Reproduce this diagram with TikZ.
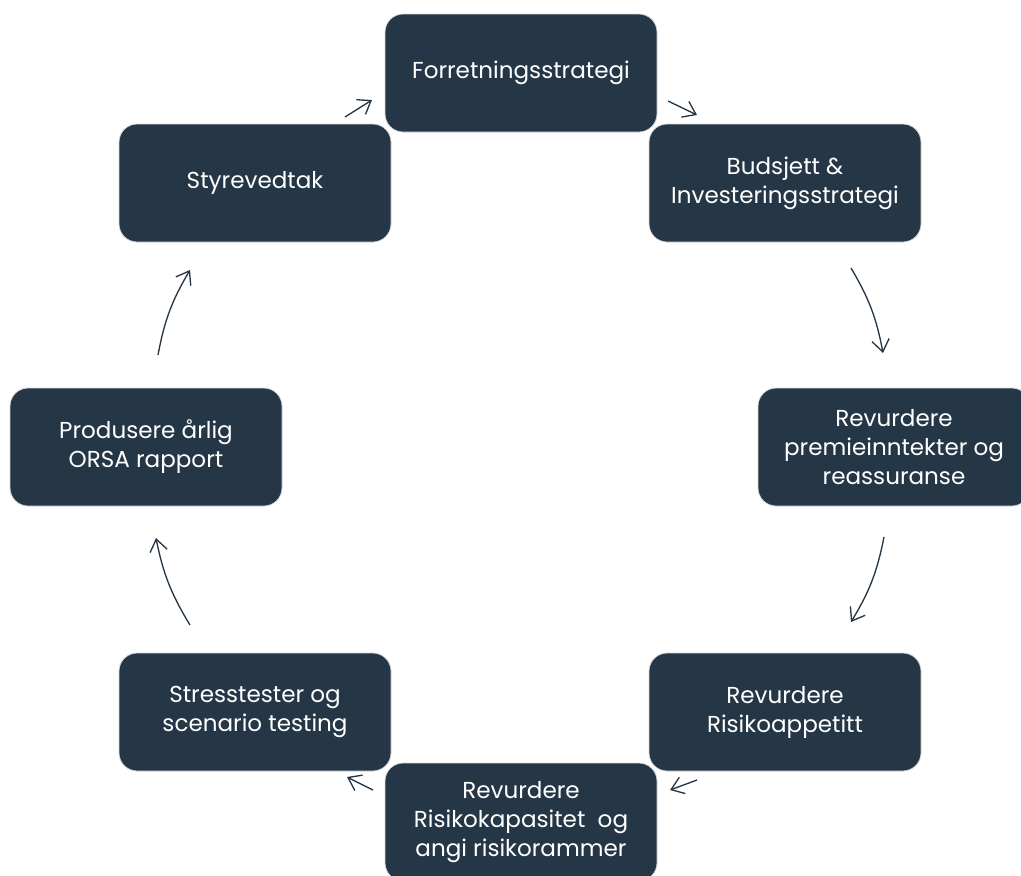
\documentclass[tikz,border=0pt]{standalone}
\usepackage{fontspec}
\setmainfont{Poppins}
\usetikzlibrary{arrows.meta}
\definecolor{boxc}{HTML}{253746}
\tikzset{
  stepbox/.style={draw=gray!30, line width=0.6pt, fill=boxc, rounded corners=13.5pt,
    minimum width=204pt, minimum height=88.5pt, text=white, align=center,
    font=\fontsize{17.3pt}{21.75pt}\selectfont, inner sep=0pt},
  flow/.style={draw=boxc, line width=1pt, -{Straight Barb[length=9pt,width=13pt,line width=1pt]}}
}
\begin{document}
\begin{tikzpicture}[x=0.75pt,y=-0.75pt]
\useasboundingbox (0,0) rectangle (1021,875);
\node[stepbox] (forr) at (521,73) {Forretningsstrategi};
\node[stepbox] (buds) at (785,183) {Budsjett \&\\Investeringsstrategi};
\node[stepbox] (prem) at (894,447) {Revurdere\\premieinntekter og\\reassuranse};
\node[stepbox] (appe) at (785,712) {Revurdere\\Risikoappetitt};
\node[stepbox] (kapa) at (521,822) {Revurdere\\Risikokapasitet\ \ og\\angi risikorammer};
\node[stepbox] (stre) at (255,712) {Stresstester og\\scenario testing};
\node[stepbox] (orsa) at (146,447) {Produsere årlig\\ORSA rapport};
\node[stepbox] (styr) at (255,183) {Styrevedtak};
\coordinate (a1s) at (345,117); \coordinate (a1e) at (372,100);
\coordinate (a2s) at (668,101); \coordinate (a2e) at (697,115);
\coordinate (a3s) at (851,268); \coordinate (a3e) at (883,353);
\coordinate (a4s) at (884,537); \coordinate (a4e) at (851,622);
\coordinate (a5s) at (697,780); \coordinate (a5e) at (670,790);
\coordinate (a6s) at (373,790); \coordinate (a6e) at (347,777);
\coordinate (a7s) at (190,625); \coordinate (a7e) at (156,538);
\coordinate (a8s) at (158,355); \coordinate (a8e) at (190,270);
\draw[flow] (a1s) -- (a1e);
\draw[flow] (a2s) -- (a2e);
\draw[flow] (a3s) to[bend left=10] (a3e);
\draw[flow] (a4s) to[bend left=10] (a4e);
\draw[flow] (a5s) -- (a5e);
\draw[flow] (a6s) -- (a6e);
\draw[flow] (a7s) to[bend left=10] (a7e);
\draw[flow] (a8s) to[bend left=10] (a8e);
\end{tikzpicture}
\end{document}
